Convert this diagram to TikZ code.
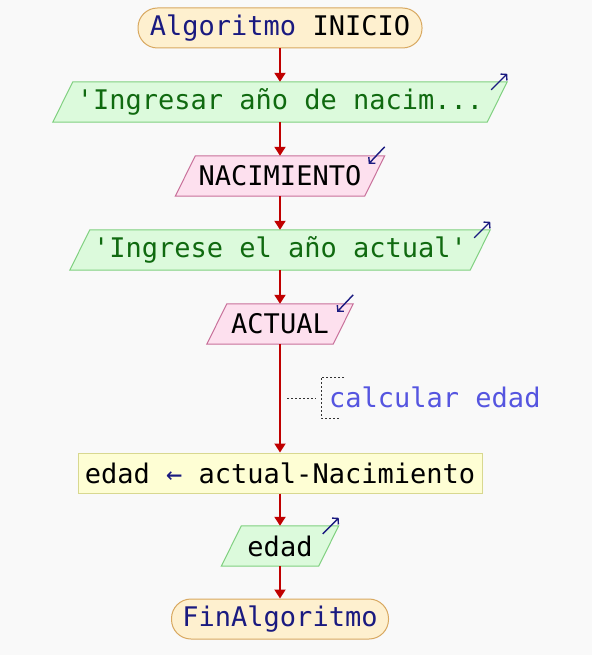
\documentclass[tikz,border=0pt]{standalone}
\usepackage{fontspec}
\setmonofont{DejaVu Sans Mono}
\usetikzlibrary{arrows.meta,backgrounds}
\definecolor{bgc}{HTML}{F9F9F9}
\definecolor{termfill}{HTML}{FEF0CF}
\definecolor{termdraw}{HTML}{D8A860}
\definecolor{outfill}{HTML}{DCFADC}
\definecolor{outdraw}{HTML}{80D080}
\definecolor{outtext}{HTML}{106A10}
\definecolor{infill}{HTML}{FDE0EE}
\definecolor{indraw}{HTML}{C8709A}
\definecolor{procfill}{HTML}{FEFED4}
\definecolor{procdraw}{HTML}{D8D890}
\definecolor{flowred}{HTML}{C00000}
\definecolor{navy}{HTML}{1A1A80}
\definecolor{cmtblue}{HTML}{5555E0}
\tikzset{
  base/.style={font=\ttfamily\fontsize{27}{31}\selectfont, inner sep=0pt, anchor=center, minimum height=40pt},
  term/.style={base, draw=termdraw, fill=termfill, line width=1pt, rounded corners=19.5pt},
  outnode/.style={base, text=outtext},
  innode/.style={base, text=black},
  proc/.style={base, draw=procdraw, fill=procfill, line width=1pt},
  outshape/.style={draw=outdraw, fill=outfill, line width=1pt},
  inshape/.style={draw=indraw, fill=infill, line width=1pt},
  flow/.style={draw=flowred, line width=2pt, -{Triangle[length=9pt,width=11pt]}},
  corner/.style={draw=navy, line width=1.4pt, -{Straight Barb[length=4pt,width=9pt]}},
  cmtline/.style={draw=black!80, line width=0.9pt, dash pattern=on 2pt off 2pt},
}
\newcommand{\paraShape}[2]{%
  \begin{scope}[on background layer]
    \path[#2] ([xshift=10pt]#1.north west) -- ([xshift=10pt]#1.north east) -- ([xshift=-10pt]#1.south east) -- ([xshift=-10pt]#1.south west) -- cycle;
  \end{scope}}
\newcommand{\outArrow}[1]{\draw[corner] ([xshift=-6pt,yshift=-8pt]#1.north east) -- ([xshift=10pt,yshift=8pt]#1.north east);}
\newcommand{\inArrow}[1]{\draw[corner] ([xshift=10pt,yshift=9pt]#1.north east) -- ([xshift=-6pt,yshift=-8pt]#1.north east);}
\begin{document}
\begin{tikzpicture}[x=1pt,y=-1pt]
  \begin{scope}[on background layer]
    \fill[bgc] (0,0) rectangle (592,655);
  \end{scope}
  \useasboundingbox (0,0) rectangle (592,655);

  \node[term, minimum width=284pt] (start) at (280,28) {{\color{navy}Algoritmo} INICIO};
  \node[outnode, minimum width=434pt] (o1) at (280,102) {'Ingresar año de nacim...};
  \node[innode, minimum width=189pt] (i1) at (280,176) {NACIMIENTO};
  \node[outnode, minimum width=400pt] (o2) at (280,250) {'Ingrese el año actual'};
  \node[innode, minimum width=126pt] (i2) at (280,324) {ACTUAL};
  \node[proc, minimum width=404pt] (p1) at (280,473) {edad {\color{navy}←} actual-Nacimiento};
  \node[outnode, text=black, minimum width=97pt] (o3) at (280,546) {edad};
  \node[term, minimum width=217pt] (end) at (280,619) {{\color{navy}FinAlgoritmo}};

  \paraShape{o1}{outshape}
  \paraShape{i1}{inshape}
  \paraShape{o2}{outshape}
  \paraShape{i2}{inshape}
  \paraShape{o3}{outshape}

  \outArrow{o1}
  \inArrow{i1}
  \outArrow{o2}
  \inArrow{i2}
  \outArrow{o3}

  \draw[flow] (start) -- (o1);
  \draw[flow] (o1) -- (i1);
  \draw[flow] (i1) -- (o2);
  \draw[flow] (o2) -- (i2);
  \draw[flow] (i2) -- (p1);
  \draw[flow] (p1) -- (o3);
  \draw[flow] (o3) -- (end);

  % comment
  \node[font=\ttfamily\fontsize{27}{31}\selectfont, text=cmtblue, inner sep=0pt, anchor=west] (cmt) at (329,397) {calcular edad};
  \coordinate (cl) at (287,398);
  \coordinate (cr) at (316,398);
  \draw[cmtline] (cl) -- (cr);
  \draw[cmtline] (344,377) -- (321,377) -- (321,418) -- (339,418);
\end{tikzpicture}
\end{document}
